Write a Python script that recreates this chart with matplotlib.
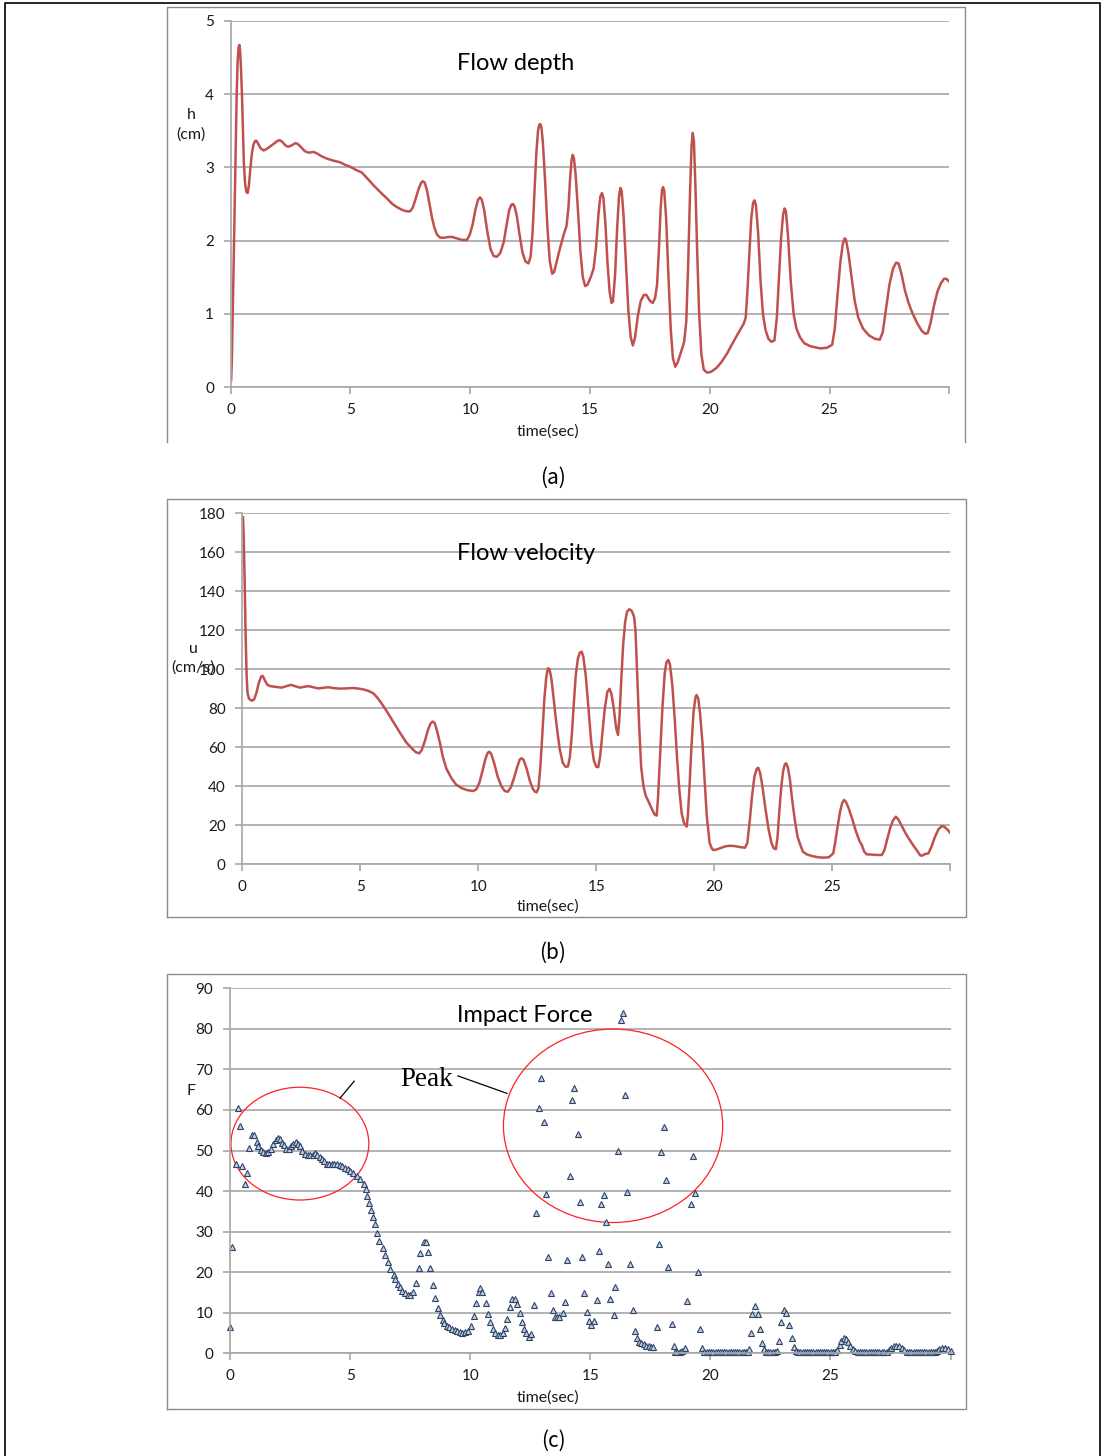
import matplotlib
matplotlib.use('Agg')
import matplotlib.pyplot as plt
from matplotlib.patches import Ellipse
from matplotlib.lines import Line2D

# flow depth h (cm) vs time (sec)
depth_t = [0.02, 0.05, 0.08, 0.11, 0.14, 0.20, 0.25, 0.29, 0.33, 0.36, 0.39, 0.43, 0.47, 0.51,
           0.55, 0.60, 0.66, 0.71, 0.76, 0.82, 0.88, 0.95, 1.02, 1.08, 1.15, 1.25, 1.38, 1.50,
           1.75, 1.95, 2.05, 2.15, 2.28, 2.40, 2.55, 2.70, 2.80, 2.95, 3.10, 3.25, 3.45, 3.60,
           3.80, 4.01, 4.30, 4.56, 4.80, 4.98, 5.20, 5.47, 5.70, 5.95, 6.25, 6.51, 6.75, 6.93,
           7.15, 7.35, 7.49, 7.60, 7.72, 7.85, 7.95, 8.03, 8.10, 8.20, 8.30, 8.40, 8.50, 8.62,
           8.75, 8.90, 9.10, 9.25, 9.45, 9.65, 9.86, 9.98, 10.10, 10.22, 10.33, 10.41, 10.48,
           10.58, 10.70, 10.85, 10.98, 11.11, 11.25, 11.40, 11.52, 11.63, 11.72, 11.78, 11.85,
           11.95, 12.05, 12.18, 12.30, 12.43, 12.52, 12.60, 12.68, 12.76, 12.83, 12.88, 12.92,
           12.97, 13.03, 13.12, 13.22, 13.32, 13.42, 13.50, 13.60, 13.75, 13.90, 14.02, 14.10,
           14.17, 14.23, 14.28, 14.33, 14.40, 14.50, 14.60, 14.70, 14.80, 14.90, 15.05, 15.15,
           15.25, 15.35, 15.43, 15.50, 15.56, 15.64, 15.73, 15.82, 15.90, 15.96, 16.05, 16.13,
           16.21, 16.27, 16.32, 16.40, 16.50, 16.60, 16.70, 16.79, 16.88, 17.00, 17.12, 17.25,
           17.35, 17.50, 17.62, 17.72, 17.80, 17.88, 17.95, 18.01, 18.05, 18.10, 18.18, 18.27,
           18.37, 18.46, 18.56, 18.66, 18.80, 18.93, 19.02, 19.10, 19.18, 19.24, 19.29, 19.34,
           19.40, 19.47, 19.55, 19.65, 19.75, 19.89, 20.05, 20.30, 20.50, 20.72, 20.95, 21.14,
           21.30, 21.42, 21.50, 21.57, 21.65, 21.73, 21.81, 21.87, 21.93, 22.02, 22.12, 22.22,
           22.33, 22.45, 22.58, 22.70, 22.80, 22.90, 22.98, 23.06, 23.12, 23.18, 23.27, 23.38,
           23.50, 23.62, 23.77, 23.95, 24.20, 24.62, 24.90, 25.11, 25.22, 25.33, 25.45, 25.55,
           25.63, 25.68, 25.78, 25.92, 26.05, 26.20, 26.40, 26.64, 26.90, 27.10, 27.22, 27.35,
           27.50, 27.65, 27.78, 27.88, 28.00, 28.15, 28.30, 28.45, 28.65, 28.85, 29.00, 29.10,
           29.22, 29.35, 29.50, 29.65, 29.78, 29.88, 30.00]
depth_h = [0.10, 0.40, 0.90, 1.45, 2.00, 3.10, 4.00, 4.45, 4.64, 4.67, 4.60, 4.35, 4.00, 3.50,
           3.05, 2.78, 2.66, 2.65, 2.75, 2.98, 3.18, 3.31, 3.36, 3.36, 3.32, 3.26, 3.23, 3.25,
           3.31, 3.36, 3.37, 3.35, 3.30, 3.28, 3.30, 3.33, 3.32, 3.27, 3.22, 3.20, 3.21, 3.19,
           3.15, 3.12, 3.09, 3.07, 3.03, 3.01, 2.97, 2.93, 2.85, 2.76, 2.66, 2.58, 2.50, 2.46,
           2.42, 2.40, 2.40, 2.45, 2.57, 2.71, 2.79, 2.81, 2.79, 2.68, 2.50, 2.32, 2.18, 2.08,
           2.04, 2.04, 2.05, 2.05, 2.03, 2.01, 2.01, 2.08, 2.22, 2.43, 2.56, 2.59, 2.56,
           2.42, 2.15, 1.88, 1.79, 1.78, 1.83, 1.98, 2.22, 2.42, 2.49, 2.50, 2.47,
           2.33, 2.10, 1.84, 1.72, 1.69, 1.78, 2.10, 2.65, 3.20, 3.50, 3.58, 3.59,
           3.55, 3.35, 2.85, 2.20, 1.72, 1.55, 1.57, 1.70, 1.90, 2.08, 2.20, 2.45,
           2.85, 3.10, 3.17, 3.12, 2.90, 2.40, 1.85, 1.50, 1.38, 1.40, 1.52, 1.62,
           1.90, 2.35, 2.60, 2.65, 2.58, 2.25, 1.70, 1.30, 1.15, 1.17, 1.55, 2.15,
           2.60, 2.72, 2.68, 2.35, 1.70, 1.05, 0.68, 0.57, 0.68, 0.98, 1.18, 1.26,
           1.26, 1.18, 1.15, 1.22, 1.40, 1.90, 2.45, 2.70, 2.73, 2.68, 2.30, 1.55,
           0.80, 0.40, 0.28, 0.34, 0.48, 0.62, 0.90, 1.70, 2.70, 3.30, 3.47, 3.35,
           2.75, 1.90, 1.05, 0.45, 0.24, 0.20, 0.21, 0.27, 0.35, 0.46, 0.60, 0.71,
           0.80, 0.87, 0.95, 1.30, 1.80, 2.30, 2.52, 2.55, 2.48, 2.10, 1.45, 1.00,
           0.78, 0.66, 0.62, 0.64, 0.95, 1.55, 2.05, 2.35, 2.44, 2.40, 2.05, 1.45,
           1.00, 0.80, 0.68, 0.60, 0.56, 0.53, 0.54, 0.58, 0.80, 1.25, 1.70, 1.95,
           2.03, 2.02, 1.85, 1.50, 1.18, 0.95, 0.80, 0.71, 0.66, 0.65, 0.75, 1.05,
           1.40, 1.62, 1.70, 1.69, 1.55, 1.32, 1.15, 1.02, 0.88, 0.77, 0.73, 0.74,
           0.88, 1.10, 1.30, 1.42, 1.48, 1.48, 1.44]

# flow velocity u (cm/s)
vel_t = [0.03, 0.06, 0.10, 0.14, 0.18, 0.22, 0.28, 0.40, 0.50, 0.60, 0.70, 0.80, 0.87, 0.95,
         1.05, 1.17, 1.40, 1.67, 1.85, 2.06, 2.25, 2.44, 2.62, 2.80, 3.00, 3.22, 3.42, 3.64,
         3.90, 4.14, 4.40, 4.70, 4.92, 5.13, 5.35, 5.55, 5.72, 5.90, 6.12, 6.40, 6.68, 6.95,
         7.18, 7.35, 7.50, 7.60, 7.73, 7.87, 7.98, 8.07, 8.15, 8.25, 8.38, 8.50, 8.65, 8.87,
         9.05, 9.30, 9.55, 9.79, 9.92, 10.05, 10.18, 10.30, 10.40, 10.47, 10.55, 10.68, 10.82,
         10.98, 11.12, 11.25, 11.38, 11.52, 11.65, 11.76, 11.84, 11.92, 12.05, 12.18, 12.30,
         12.40, 12.47, 12.55, 12.63, 12.72, 12.80, 12.88, 12.95, 13.02, 13.10, 13.20, 13.32,
         13.45, 13.58, 13.70, 13.80, 13.88, 13.96, 14.05, 14.13, 14.22, 14.30, 14.38, 14.45,
         14.55, 14.67, 14.78, 14.90, 15.00, 15.08, 15.16, 15.25, 15.36, 15.47, 15.56, 15.64,
         15.74, 15.84, 15.92, 15.98, 16.06, 16.14, 16.22, 16.30, 16.40, 16.50, 16.60, 16.66,
         16.74, 16.82, 16.90, 17.00, 17.10, 17.22, 17.35, 17.47, 17.56, 17.62, 17.70, 17.80,
         17.90, 17.97, 18.05, 18.12, 18.22, 18.32, 18.42, 18.52, 18.62, 18.72, 18.83, 18.88,
         18.95, 19.03, 19.12, 19.20, 19.25, 19.32, 19.40, 19.50, 19.58, 19.68, 19.80, 19.90,
         19.96, 20.10, 20.30, 20.50, 20.67, 20.90, 21.10, 21.30, 21.40, 21.50, 21.60, 21.70,
         21.80, 21.86, 21.94, 22.04, 22.16, 22.30, 22.42, 22.52, 22.61, 22.68, 22.76, 22.84,
         22.92, 22.98, 23.04, 23.11, 23.20, 23.30, 23.42, 23.53, 23.63, 23.75, 23.92, 24.15,
         24.40, 24.62, 24.85, 25.04, 25.12, 25.22, 25.33, 25.42, 25.50, 25.58, 25.70, 25.85,
         26.00, 26.15, 26.25, 26.35, 26.46, 26.65, 26.85, 27.10, 27.20, 27.32, 27.45, 27.57,
         27.69, 27.80, 27.95, 28.10, 28.25, 28.37, 28.50, 28.62, 28.72, 28.79, 28.92, 29.07,
         29.20, 29.35, 29.50, 29.64, 29.75, 29.88, 29.99]
vel_u = [178, 168, 145, 118, 98, 88, 85, 83.9, 84.5, 88, 93, 96.3, 96.6, 94.5,
         92.2, 91.4, 91.0, 90.6, 91.3, 92, 91.3, 90.6, 91.0, 91.4, 90.8, 90.2, 90.5, 90.8,
         90.3, 90.1, 90.2, 90.4, 90.1, 89.7, 88.9, 87.7, 85.5, 82.5, 78.5, 73, 67.5, 62.5,
         59.5, 57.5, 56.9, 58.5, 63, 69, 72.3, 73.2, 72.5, 68.5, 62, 55, 49, 44,
         41, 39, 38, 37.6, 38.5, 42, 48, 54, 57.2, 57.7, 56.5, 51.5, 45,
         40, 37.6, 37.2, 39.5, 44.5, 50, 53.8, 54.4, 53.5, 49, 43, 39,
         37.2, 36.9, 39, 50, 68, 85, 96, 100.5, 100, 95, 84, 71,
         59, 52, 50, 50.2, 55, 66, 83, 97, 105.5, 108.5, 109, 106.5,
         97, 80, 63, 53, 50, 49.8, 55, 66, 80, 88.5, 90, 87.5,
         80, 70, 66.3, 75, 95, 113, 124, 129.5, 130.8, 130, 127, 120,
         95, 70, 50, 40, 35, 32, 28.5, 25.5, 25.0, 35, 55, 80,
         98, 103.5, 104.8, 102.5, 92, 75, 55, 38, 26, 21, 19.3, 25,
         40, 60, 78, 85.5, 86.8, 85, 77, 62, 45, 25, 11, 8,
         7.3, 7.6, 8.5, 9.3, 9.5, 9.3, 8.8, 8.5, 11, 22, 35, 45,
         49, 49.5, 47, 40, 29, 18, 11, 8.2, 7.8, 14, 28, 40,
         48, 51, 51.8, 50, 44, 33, 22, 14, 10.5, 6.5, 5.1, 4.2,
         3.6, 3.4, 3.6, 5.6, 11, 19, 27, 31.5, 33, 32, 28.5, 23,
         17, 12, 9.9, 6.5, 5.1, 5.0, 4.8, 4.8, 7, 12.5, 18.5, 22.5,
         24.4, 23, 19.5, 16, 13, 10.8, 8.5, 6.5, 4.6, 4.4, 5.2, 5.6,
         9, 14, 18, 19.6, 19.2, 17.8, 16.2]

# impact force F, one triangle per sample
force_t = [0.01, 0.10, 0.24, 0.35, 0.42, 0.51, 0.64, 0.72, 0.80, 0.93, 1.02, 1.11, 1.18, 1.28,
           1.39, 1.50, 1.60, 1.71, 1.80, 1.90, 1.99, 2.08, 2.15, 2.25, 2.35, 2.46, 2.54, 2.64,
           2.74, 2.82, 2.92, 3.01, 3.12, 3.24, 3.35, 3.44, 3.54, 3.64, 3.74, 3.83, 3.93, 4.03,
           4.12, 4.24, 4.35, 4.46, 4.57, 4.68, 4.79, 4.90, 5.00, 5.14, 5.28, 5.42, 5.56, 5.65,
           5.72, 5.79, 5.88, 5.96, 6.04, 6.11, 6.22, 6.36, 6.45, 6.57, 6.67, 6.81, 6.88, 6.99,
           7.08, 7.18, 7.29, 7.40, 7.50, 7.63, 7.74, 7.85, 7.93, 8.06, 8.17, 8.24, 8.33, 8.46,
           8.54, 8.64, 8.75, 8.85, 8.93, 9.03, 9.13, 9.24, 9.35, 9.46, 9.57, 9.68, 9.79, 9.90,
           10.04, 10.14, 10.25, 10.35, 10.42, 10.49, 10.65, 10.74, 10.83, 10.94, 11.04, 11.14,
           11.24, 11.35, 11.45, 11.54, 11.67, 11.76, 11.85, 11.96, 12.06, 12.15, 12.24, 12.33,
           12.43, 12.54, 12.64, 12.75, 12.85, 12.95, 13.07, 13.15, 13.24, 13.35, 13.46, 13.54,
           13.62, 13.70, 13.85, 13.95, 14.04, 14.17, 14.25, 14.33, 14.49, 14.57, 14.65, 14.75,
           14.86, 14.96, 15.04, 15.17, 15.28, 15.36, 15.45, 15.58, 15.67, 15.75, 15.83, 15.97,
           16.05, 16.14, 16.28, 16.36, 16.46, 16.54, 16.67, 16.76, 16.86, 16.96, 17.04, 17.13,
           17.22, 17.32, 17.43, 17.53, 17.62, 17.76, 17.86, 17.96, 18.07, 18.17, 18.25, 18.39,
           18.47, 18.54, 18.62, 18.72, 18.82, 18.96, 19.04, 19.18, 19.26, 19.36, 19.49, 19.57,
           19.65, 19.74, 19.85, 19.95, 20.04, 20.13, 20.22, 20.31, 20.40, 20.49, 20.58, 20.67,
           20.76, 20.85, 20.94, 21.03, 21.12, 21.21, 21.30, 21.39, 21.48, 21.55, 21.60, 21.68,
           21.75, 21.86, 21.97, 22.07, 22.17, 22.25, 22.33, 22.42, 22.50, 22.60, 22.70, 22.78,
           22.86, 22.96, 23.07, 23.17, 23.26, 23.39, 23.47, 23.57, 23.66, 23.75, 23.84, 23.93,
           24.02, 24.11, 24.20, 24.29, 24.38, 24.47, 24.56, 24.65, 24.74, 24.83, 24.92, 25.01,
           25.10, 25.19, 25.28, 25.38, 25.46, 25.56, 25.65, 25.74, 25.83, 25.93, 26.04, 26.14,
           26.23, 26.32, 26.41, 26.50, 26.59, 26.68, 26.77, 26.86, 26.95, 27.04, 27.13, 27.22,
           27.34, 27.43, 27.54, 27.64, 27.74, 27.85, 27.96, 28.07, 28.18, 28.28, 28.37, 28.46,
           28.55, 28.64, 28.73, 28.82, 28.91, 29.00, 29.09, 29.18, 29.27, 29.36, 29.44, 29.54,
           29.65, 29.76, 29.88, 30.00]
force_F = [6.6, 26.3, 46.7, 60.6, 56.0, 46.2, 41.7, 44.4, 50.5, 53.8, 53.8, 52.2, 51.0, 50.1,
           49.6, 49.4, 49.6, 50.3, 51.5, 52.6, 53.0, 52.8, 51.8, 51.4, 50.4, 50.3, 51.0, 51.5,
           52.0, 51.6, 51.0, 49.9, 49.1, 48.8, 48.8, 49.0, 49.3, 48.9, 48.3, 47.8, 47.3, 46.8,
           46.7, 46.7, 46.7, 46.7, 46.5, 46.2, 45.8, 45.4, 45.0, 44.4, 43.8, 42.9, 41.7, 40.4,
           38.9, 37.0, 35.3, 33.5, 31.8, 29.7, 27.8, 26.0, 24.2, 22.4, 20.7, 19.3, 18.2, 17.1,
           16.3, 15.4, 14.8, 14.4, 14.4, 15.0, 17.4, 21.0, 24.7, 27.5, 27.5, 25.0, 21.0, 16.8,
           13.7, 11.1, 9.4, 8.2, 7.4, 6.8, 6.4, 6.0, 5.7, 5.4, 5.2, 5.1, 5.3, 5.6,
           6.8, 9.2, 12.5, 15.0, 16.0, 15.0, 12.5, 9.6, 7.6, 5.9, 4.9, 4.5,
           4.5, 5.1, 6.3, 8.5, 11.3, 13.3, 13.3, 12.1, 9.9, 7.6, 5.9, 4.9,
           4.1, 4.8, 11.9, 34.7, 60.6, 67.9, 57.1, 39.2, 23.8, 14.9, 10.7, 9.0,
           8.9, 9.0, 9.9, 12.7, 23.0, 43.8, 62.5, 65.3, 54.1, 37.4, 23.8, 14.9,
           10.2, 8.0, 6.9, 8.0, 13.1, 25.3, 36.7, 39.0, 32.4, 22.0, 13.4, 9.4,
           16.4, 50.0, 82.1, 83.9, 63.8, 39.8, 22.0, 10.8, 5.6, 3.7, 2.9, 2.5,
           2.2, 1.9, 1.7, 1.6, 1.6, 6.4, 26.9, 49.6, 55.8, 42.7, 21.2, 7.2,
           1.9, 0.4, 0.3, 0.4, 0.6, 1.4, 12.9, 36.7, 48.7, 39.6, 20.0, 5.9,
           1.2, 0.3, 0.3, 0.3, 0.3, 0.3, 0.3, 0.3, 0.3, 0.3, 0.3, 0.3,
           0.3, 0.3, 0.3, 0.3, 0.3, 0.3, 0.3, 0.3, 0.3, 0.3, 1.0, 4.9,
           9.6, 11.7, 9.6, 5.9, 2.6, 1.0, 0.3, 0.2, 0.2, 0.2, 0.3, 0.6,
           3.1, 7.8, 10.8, 10.0, 7.1, 3.8, 1.5, 0.5, 0.3, 0.3, 0.3, 0.3,
           0.3, 0.3, 0.3, 0.3, 0.3, 0.3, 0.3, 0.3, 0.3, 0.3, 0.3, 0.3,
           0.3, 0.3, 0.8, 2.0, 3.1, 3.7, 3.5, 2.7, 1.9, 1.1, 0.6, 0.3,
           0.3, 0.3, 0.3, 0.3, 0.3, 0.3, 0.3, 0.3, 0.3, 0.3, 0.3, 0.3,
           0.3, 0.8, 1.3, 1.8, 1.9, 1.8, 1.3, 0.8, 0.4, 0.3, 0.3, 0.3,
           0.3, 0.3, 0.3, 0.3, 0.3, 0.3, 0.3, 0.3, 0.3, 0.3, 0.6, 1.0,
           1.2, 1.2, 1.0, 0.6]

W, H = 1102, 1456
GRID = '#a6a6a6'
LINE = '#c0504d'
FONT = 'Lato'
CJK = ['Noto Sans CJK KR', 'DejaVu Sans']

fig = plt.figure(figsize=(W / 100, H / 100), dpi=100)


def fig_ax(left, right, top, bottom):
    # pixel box of the plotting area -> figure axes
    return fig.add_axes([left / W, 1 - bottom / H, (right - left) / W, (bottom - top) / H])


def ftext(px, py, s, **kw):
    fig.text(px / W, 1 - py / H, s, **kw)


def fline(xs, ys, **kw):
    fig.add_artist(Line2D([x / W for x in xs], [1 - y / H for y in ys], **kw))


def style(ax, ymax, ystep):
    ax.set_xlim(0, 30)
    ax.set_ylim(0, ymax)
    ax.set_xticks(range(0, 31, 5))
    ax.set_xticklabels(['0', '5', '10', '15', '20', '25', ''])
    ax.set_yticks(range(0, ymax + 1, ystep))
    ax.yaxis.grid(True, color=GRID, lw=1.2)
    ax.set_axisbelow(True)
    for s in ('top', 'right'):
        ax.spines[s].set_visible(False)
    for s in ('left', 'bottom'):
        ax.spines[s].set_color(GRID)
        ax.spines[s].set_linewidth(1.2)
    ax.tick_params(direction='out', length=5, width=1.2, color=GRID,
                   labelsize=11, labelcolor='#1a1a1a')
    ax.tick_params(axis='y', pad=7)
    ax.tick_params(axis='x', pad=6)
    for lab in ax.get_xticklabels() + ax.get_yticklabels():
        lab.set_fontfamily(FONT)


def axis_text(px, py, s):
    ftext(px, py, s, fontsize=11.5, family=FONT, ha='center', va='center', color='#1a1a1a')


# outer frame
fline([5, 5, 1100, 1100], [1470, 2.5, 2.5, 1470], color='black', lw=1.2)

# panel frames
fline([167, 167, 965, 965], [442, 7, 7, 442], color='#8c8c8c', lw=1)
fline([166.5, 166.5, 966, 966, 166.5], [917, 499, 499, 917, 917], color='#8c8c8c', lw=1)
fline([166.5, 166.5, 966, 966, 166.5], [1409, 974, 974, 1409, 1409], color='#8c8c8c', lw=1)

# (a) flow depth
ax1 = fig_ax(230.7, 949.3, 20.7, 387.3)
style(ax1, 5, 1)
ax1.plot(depth_t, depth_h, color=LINE, lw=1.8, solid_joinstyle='round')
ftext(516, 63, 'Flow depth', fontsize=17, family=FONT, ha='center', va='center')
axis_text(191, 115, 'h')
axis_text(191, 135, '(cm)')
axis_text(548, 432, 'time(sec)')
ftext(553, 478, '(a)', fontsize=15, family=CJK, ha='center', va='center')

# (b) flow velocity
ax2 = fig_ax(242.3, 950.3, 513.3, 864.3)
style(ax2, 180, 20)
ax2.plot(vel_t, vel_u, color=LINE, lw=1.8, solid_joinstyle='round')
ftext(526, 553, 'Flow velocity', fontsize=17, family=FONT, ha='center', va='center')
axis_text(193, 649, 'u')
axis_text(193, 668, '(cm/s)')
axis_text(548, 907, 'time(sec)')
ftext(553, 953, '(b)', fontsize=15, family=CJK, ha='center', va='center')

# (c) impact force
ax3 = fig_ax(230, 950.5, 988.3, 1353.3)
style(ax3, 90, 10)
ax3.plot(force_t, force_F, ls='none', marker='^', ms=4.6, mew=0.8,
         mec='#2c4368', mfc='#c5cee0', clip_on=False)
ax3.add_patch(Ellipse((2.91, 51.7), 5.74, 27.8, fill=False, ec='#ff2020', lw=0.9, clip_on=False))
ax3.add_patch(Ellipse((15.95, 56.1), 9.13, 47.7, fill=False, ec='#ff2020', lw=0.9, clip_on=False))
ax3.plot([9.49, 11.53], [68.4, 64.1], color='black', lw=0.9)
ax3.plot([5.17, 4.58], [67.1, 62.9], color='black', lw=0.9)
ax3.text(7.11, 65.9, 'Peak', fontsize=19.5, family='Liberation Serif', ha='left', va='baseline')
ftext(525, 1015, 'Impact Force', fontsize=17, family=FONT, ha='center', va='center')
axis_text(191, 1091, 'F')
axis_text(548, 1398, 'time(sec)')
ftext(553, 1441, '(c)', fontsize=15, family=CJK, ha='center', va='center')

fig.savefig('out.png', dpi=100)
